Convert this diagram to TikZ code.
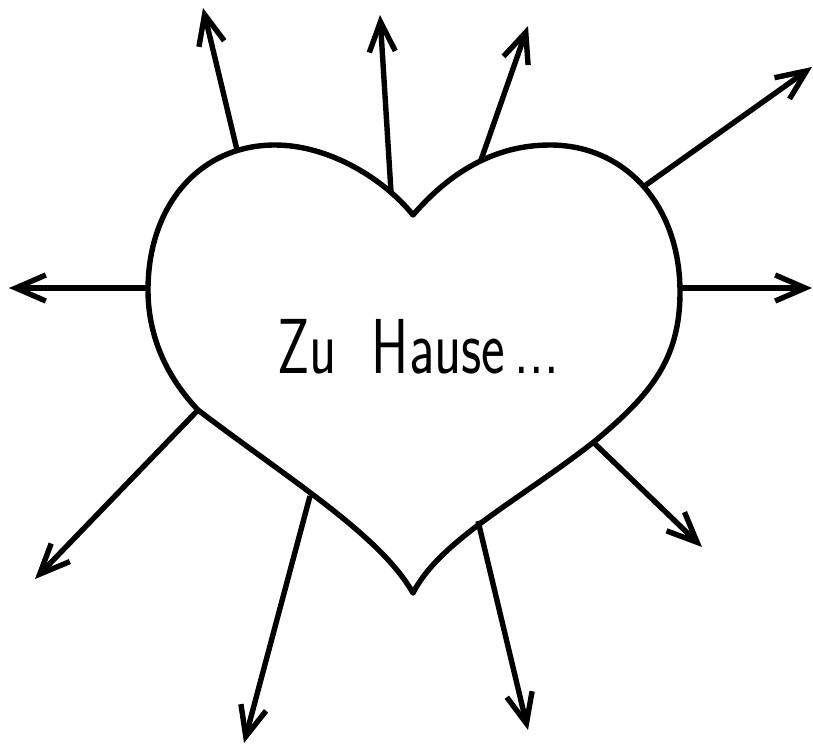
\documentclass[tikz,border=0pt]{standalone}
\usetikzlibrary{arrows.meta}
\begin{document}
\begin{tikzpicture}[x=1pt,y=-1pt,
  heartline/.style={line width=5.4pt,line join=round},
  ray/.style={line width=5.4pt,-{Straight Barb[length=30pt,width=26pt,line width=5.4pt]}},
  label/.style={font=\sffamily\fontsize{78}{84}\selectfont,inner sep=0pt}]
\useasboundingbox (0,0) rectangle (813,745);
% heart
\draw[heartline] (413,215)
  .. controls (450,172) and (495,145) .. (550,145)
  .. controls (625,145) and (680,205) .. (680,292)
  .. controls (680,360) and (650,395) .. (595,441)
  .. controls (520,500) and (440,540) .. (413,593)
  .. controls (380,535) and (290,480) .. (198,410)
  .. controls (162,372) and (148,330) .. (148,290)
  .. controls (148,205) and (200,145) .. (275,145)
  .. controls (330,145) and (385,180) .. (413,215) -- cycle;
\node[label] (txt) at (418,347) {\scalebox{0.72}[1]{Zu\ \ Hause\,...}};
% start points on the heart
\coordinate (s1) at (237,150);
\coordinate (s2) at (391,192);
\coordinate (s3) at (481,160);
\coordinate (s4) at (643,187);
\coordinate (s5) at (681,288);
\coordinate (s6) at (149,288);
\coordinate (s7) at (198,410);
\coordinate (s8) at (310,496);
\coordinate (s9) at (478,521);
\coordinate (s10) at (593,442);
% end points
\coordinate (e1) at (203,8);
\coordinate (e2) at (380,15);
\coordinate (e3) at (528,26);
\coordinate (e4) at (812,67);
\coordinate (e5) at (812,288);
\coordinate (e6) at (9,288);
\coordinate (e7) at (35,579);
\coordinate (e8) at (244,743);
\coordinate (e9) at (528,730);
\coordinate (e10) at (702,547);
\foreach \i in {1,...,10}{\draw[ray] (s\i) -- (e\i);}
\end{tikzpicture}
\end{document}
